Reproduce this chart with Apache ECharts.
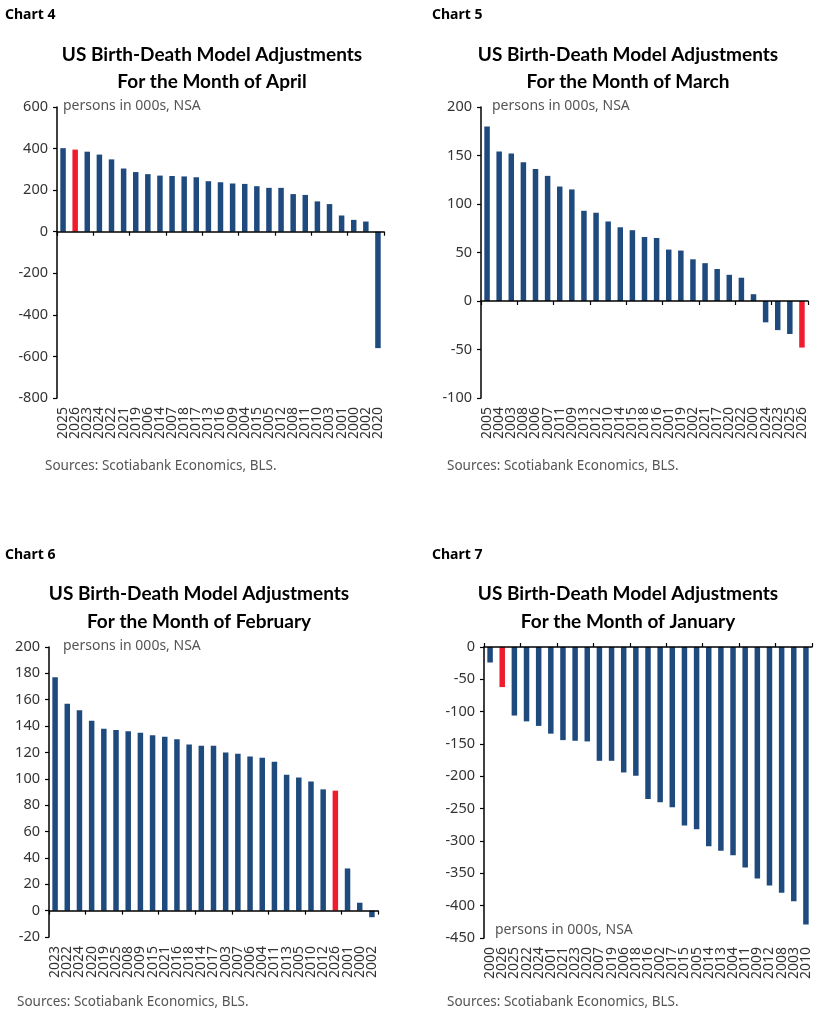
<!DOCTYPE html>
<html>
<head>
<meta charset="utf-8">
<script src="https://cdn.jsdelivr.net/npm/echarts@6/dist/echarts.min.js"></script>
<style>
html,body{margin:0;padding:0;background:#fff}
#main{width:828px;height:1023px}
</style>
</head>
<body>
<div id="main"></div>
<script>
// chart 4 - April
var years4 = ['2025','2026','2023','2024','2022','2021','2019','2006','2014','2007','2018','2017','2013','2016','2009','2004','2015','2005','2012','2008','2011','2010','2003','2001','2000','2002','2020']
var vals4 = [402,395,385,371,348,304,287,277,270,268,266,262,243,238,232,230,219,211,211,181,177,146,133,78,57,49,-560]
// chart 5 - March
var years5 = ['2005','2004','2003','2008','2006','2007','2011','2009','2013','2012','2010','2014','2015','2018','2016','2001','2019','2002','2021','2017','2020','2022','2000','2024','2023','2025','2026']
var vals5 = [180,154,152,143,136,129,118,115,93,91,82,76,73,66,65,53,52,43,39,33,27,24,7,-22,-30,-34,-48]
// chart 6 - February
var years6 = ['2023','2022','2024','2020','2019','2025','2008','2009','2015','2021','2016','2018','2014','2017','2003','2007','2006','2004','2011','2013','2005','2010','2012','2026','2001','2000','2002']
var vals6 = [177,157,152,144,138,137,136,135,133,132,130,126,125,125,120,119,117,116,113,103,101,98,92,91,32,6,-5]
// chart 7 - January
var years7 = ['2000','2026','2025','2022','2024','2001','2021','2023','2020','2007','2019','2006','2018','2016','2002','2017','2015','2005','2014','2013','2004','2011','2009','2012','2008','2003','2010']
var vals7 = [-24,-62,-106,-115,-122,-134,-144,-145,-146,-176,-176,-194,-199,-235,-240,-248,-276,-282,-308,-315,-322,-341,-358,-369,-380,-393,-429]

var highlightYear = '2026'
var navy = '#1f4a7e'
var red = '#ee1c2e'
var txtFont = '"Noto Sans", sans-serif'

var myChart = echarts.init(document.getElementById('main'))

function barData(years, vals){
	return vals.map(function(v, i){
		return { value: v, itemStyle: { color: years[i] == highlightYear ? red : navy } }
	})
}

var grids = [], xAxes = [], yAxes = [], series = []
function addPanel(years, vals, box, yMin, yMax, yInt, zeroPos){
	var g = grids.length
	grids.push({ left: box[0], top: box[1], width: box[2], height: box[3] })
	// axis line on zero, ticks between bars
	xAxes.push({
		gridIndex: g, type: 'category', data: years, position: zeroPos,
		axisLine: { onZero: true, lineStyle: { color: '#000', width: 1.5 } },
		axisTick: { show: true, length: 4, lineStyle: { color: '#000', width: 1.2 } },
		axisLabel: { show: false }, z: 10
	})
	// labels at the low end of the plot
	xAxes.push({
		gridIndex: g, type: 'category', data: years, position: 'bottom',
		axisLine: { show: false, onZero: false }, axisTick: { show: false },
		axisLabel: { interval: 0, rotate: 90, fontSize: 14, color: '#333', margin: 9, fontFamily: txtFont }
	})
	yAxes.push({
		gridIndex: g, type: 'value', min: yMin, max: yMax, interval: yInt,
		axisLine: { show: true, lineStyle: { color: '#000', width: 1.5 } },
		axisTick: { show: true, length: 4, lineStyle: { color: '#000', width: 1.2 } },
		splitLine: { show: false },
		axisLabel: { fontSize: 14.5, color: '#333', margin: 9, fontFamily: txtFont }
	})
	series.push({
		type: 'bar', xAxisIndex: xAxes.length - 2, yAxisIndex: g,
		data: barData(years, vals), barWidth: 5.5, animation: false
	})
}

addPanel(years4, vals4, [57, 107, 327, 291], -800, 600, 200, 'bottom')
addPanel(years5, vals5, [481, 107, 327, 291], -100, 200, 50, 'bottom')
addPanel(years6, vals6, [49, 647, 329, 290], -20, 200, 20, 'bottom')
addPanel(years7, vals7, [484, 647, 328, 291], -450, 0, 50, 'top')

function txt(x, y, s, font, color, align){
	return { type: 'text', x: x, y: y, z: 100,
		style: { text: s, font: font, fill: color, textAlign: align || 'left', textVerticalAlign: 'middle' } }
}
var chartFont = 'bold 14px "Noto Sans", sans-serif'
var titleFont = 'bold 19px Lato, sans-serif'
var noteFont = '14px "Noto Sans", sans-serif'
var srcFont = '13.5px "Noto Sans", sans-serif'
var note = 'persons in 000s, NSA'
var src = 'Sources: Scotiabank Economics, BLS.'
var line1 = 'US Birth-Death Model Adjustments'

var graphics = [
	txt(5, 15, 'Chart 4', chartFont, '#000'),
	txt(432, 15, 'Chart 5', chartFont, '#000'),
	txt(5, 555, 'Chart 6', chartFont, '#000'),
	txt(432, 555, 'Chart 7', chartFont, '#000'),
	txt(212, 55, line1, titleFont, '#000', 'center'),
	txt(212, 82, 'For the Month of April', titleFont, '#000', 'center'),
	txt(628, 55, line1, titleFont, '#000', 'center'),
	txt(628, 82, 'For the Month of March', titleFont, '#000', 'center'),
	txt(199, 594, line1, titleFont, '#000', 'center'),
	txt(199, 622, 'For the Month of February', titleFont, '#000', 'center'),
	txt(628, 594, line1, titleFont, '#000', 'center'),
	txt(628, 622, 'For the Month of January', titleFont, '#000', 'center'),
	txt(63, 106, note, noteFont, '#555'),
	txt(492, 106, note, noteFont, '#555'),
	txt(63, 646, note, noteFont, '#555'),
	txt(495, 930, note, noteFont, '#555'),
	txt(45, 466, src, srcFont, '#555'),
	txt(447, 466, src, srcFont, '#555'),
	txt(17, 1002, src, srcFont, '#555'),
	txt(447, 1002, src, srcFont, '#555')
]

myChart.setOption({
	animation: false,
	backgroundColor: '#fff',
	grid: grids,
	xAxis: xAxes,
	yAxis: yAxes,
	series: series,
	graphic: graphics
})
</script>
</body>
</html>
